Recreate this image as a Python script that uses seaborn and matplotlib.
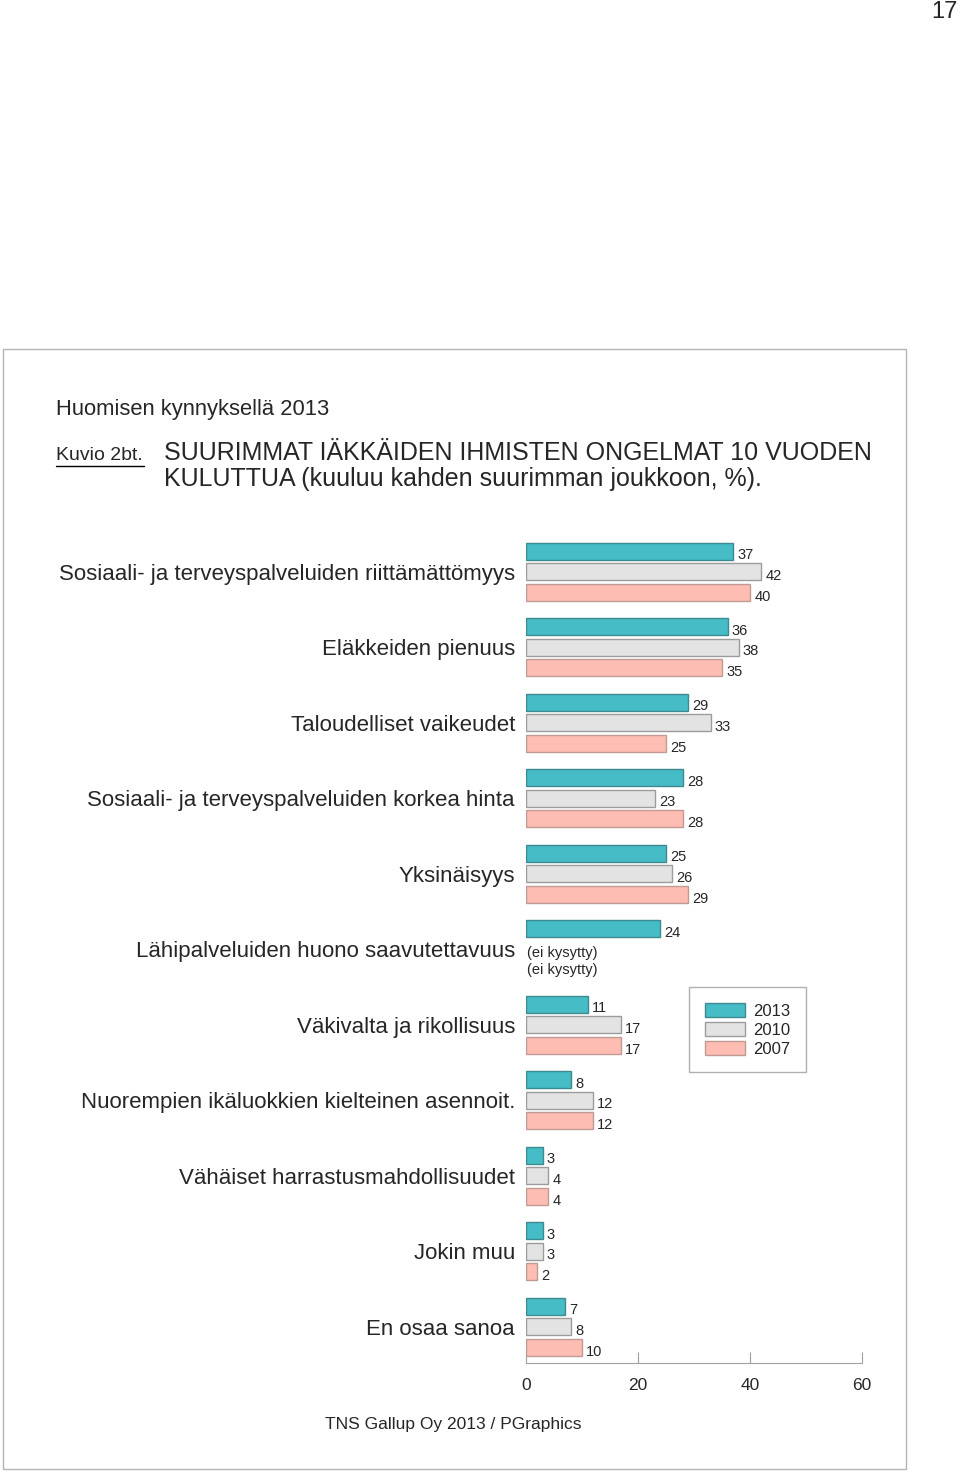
import numpy as np
import pandas as pd
import matplotlib
matplotlib.use("Agg")
import matplotlib.pyplot as plt
import seaborn as sns
from matplotlib.patches import Patch, Rectangle
from matplotlib.lines import Line2D

categories = [
    "Sosiaali- ja terveyspalveluiden riittämättömyys",
    "Eläkkeiden pienuus",
    "Taloudelliset vaikeudet",
    "Sosiaali- ja terveyspalveluiden korkea hinta",
    "Yksinäisyys",
    "Lähipalveluiden huono saavutettavuus",
    "Väkivalta ja rikollisuus",
    "Nuorempien ikäluokkien kielteinen asennoit.",
    "Vähäiset harrastusmahdollisuudet",
    "Jokin muu",
    "En osaa sanoa",
]
years = ["2013", "2010", "2007"]
v2013 = [37, 36, 29, 28, 25, 24, 11, 8, 3, 3, 7]
v2010 = [42, 38, 33, 23, 26, np.nan, 17, 12, 4, 3, 8]
v2007 = [40, 35, 25, 28, 29, np.nan, 17, 12, 4, 2, 10]
xticks = [0, 20, 40, 60]

fills = ["#45bcc6", "#e3e3e3", "#fdbdb2"]
edges = ["#3d8a91", "#9c9c9c", "#c09a93"]

df = pd.DataFrame({
    "kategoria": categories * 3,
    "vuosi": [y for y in years for _ in categories],
    "arvo": v2013 + v2010 + v2007,
})

sns.set_style("white")
plt.rcParams["font.family"] = ["Liberation Sans", "DejaVu Sans"]

fig = plt.figure(figsize=(9.6, 14.74), dpi=100)
ax = fig.add_axes([526 / 960, 111 / 1474, 336 / 960, 829 / 1474])

sns.barplot(data=df, y="kategoria", x="arvo", hue="vuosi", order=categories,
            hue_order=years, palette=fills, saturation=1, orient="h",
            width=0.82, gap=0.17, linewidth=1, ax=ax, legend=False)

for cont, ec in zip(ax.containers, edges):
    for bar in cont:
        bar.set_edgecolor(ec)
    texts = ax.bar_label(cont, fmt="{:.0f}", padding=3, fontsize=10.5)
    for t in texts:
        t.xyann = (3, -3)

# Lähipalveluiden: not asked in 2010 / 2007
idx = categories.index("Lähipalveluiden huono saavutettavuus")
ax.text(0.2, idx + 0.05, "(ei kysytty)", fontsize=10.5, va="center", ha="left")
ax.text(0.2, idx + 0.27, "(ei kysytty)", fontsize=10.5, va="center", ha="left")

ax.set_xlim(0, 60)
ax.set_ylim(10.48, -0.5)
ax.set_xticks(xticks)
ax.set_xlabel("")
ax.set_ylabel("")
ax.tick_params(axis="x", direction="in", length=8, color="#a0a0a0",
               labelsize=12.5, pad=11, bottom=True)
ax.tick_params(axis="y", length=0, labelsize=16, pad=8)
for s in ["top", "right", "left"]:
    ax.spines[s].set_visible(False)
ax.spines["bottom"].set_color("#a0a0a0")

handles = [Patch(facecolor=f, edgecolor=e, label=y) for f, e, y in zip(fills, edges, years)]
leg = ax.legend(handles=handles, loc="upper left",
                bbox_to_anchor=(689 / 960, 1 - 987 / 1474),
                bbox_transform=fig.transFigure, fontsize=12, frameon=True,
                fancybox=False, edgecolor="#b0b0b0", framealpha=1,
                handlelength=2.4, handleheight=0.95, labelspacing=0.18,
                borderpad=0.95, handletextpad=0.5, borderaxespad=0)
leg.get_frame().set_linewidth(1)

# page frame and texts
fig.patches.append(Rectangle((3 / 960, 1 - 1469 / 1474), 903 / 960, 1120 / 1474,
                             transform=fig.transFigure, fill=False,
                             edgecolor="#b5b5b5", linewidth=1))
fig.text(958 / 960, 1 - 12 / 1474, "17", fontsize=17, ha="right", va="center")
fig.text(56 / 960, 1 - 409 / 1474, "Huomisen kynnyksellä 2013", fontsize=15.8,
         ha="left", va="center")
fig.text(56 / 960, 1 - 456 / 1474, "Kuvio 2bt.", fontsize=14, ha="left", va="center")
fig.add_artist(Line2D([56 / 960, 144 / 960], [1 - 466 / 1474, 1 - 466 / 1474],
                      transform=fig.transFigure, color="black", linewidth=1))
fig.text(164 / 960, 1 - 453 / 1474, "SUURIMMAT IÄKKÄIDEN IHMISTEN ONGELMAT 10 VUODEN",
         fontsize=18, ha="left", va="center")
fig.text(164 / 960, 1 - 479 / 1474, "KULUTTUA (kuuluu kahden suurimman joukkoon, %).",
         fontsize=18, ha="left", va="center")
fig.text(453 / 960, 1 - 1425 / 1474, "TNS Gallup Oy 2013 / PGraphics", fontsize=12.5,
         ha="center", va="center")

fig.savefig("out.png", dpi=100)
